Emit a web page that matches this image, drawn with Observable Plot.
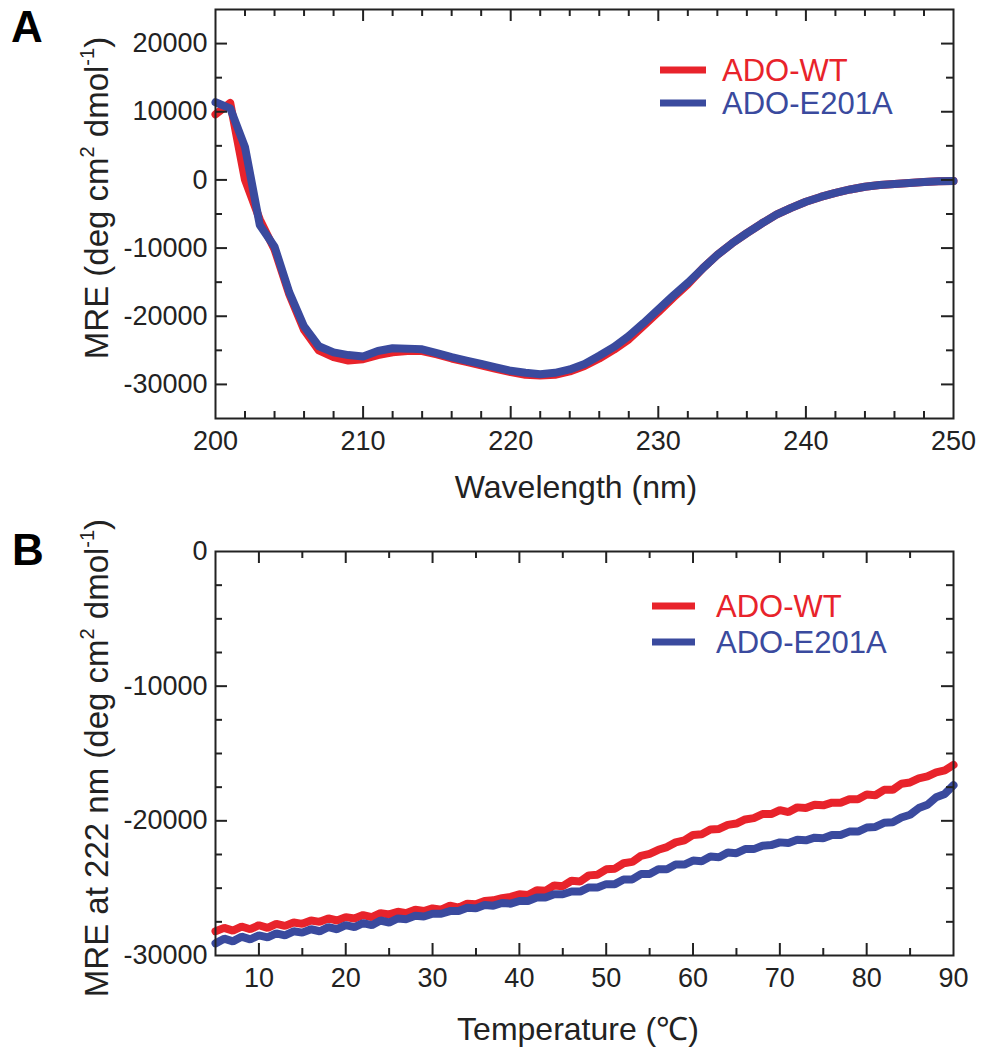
<!DOCTYPE html>
<html><head><meta charset="utf-8">
<script src="https://cdn.jsdelivr.net/npm/d3@7"></script>
<script src="https://cdn.jsdelivr.net/npm/@observablehq/plot@0.6"></script>
<style>body{margin:0;background:#fff} #wrap{width:986px;background:#fff} svg{display:block}</style>
</head><body><div id="wrap"></div>
<script>
// ---------- Panel A: CD spectra ----------
const wavelengthNm = [200,201,202,203,204,205,206,207,208,209,210,211,212,213,214,215,216,217,218,219,220,221,222,223,224,225,226,227,228,229,230,231,232,233,234,235,236,237,238,239,240,241,242,243,244,245,246,247,248,249,250];
const mreWT = [9600,11300,0,-5800,-10200,-16800,-22000,-25000,-26000,-26500,-26300,-25700,-25300,-25100,-25100,-25600,-26200,-26700,-27200,-27700,-28200,-28600,-28700,-28600,-28100,-27300,-26200,-24900,-23400,-21400,-19400,-17300,-15300,-13000,-11000,-9300,-7800,-6400,-5100,-4100,-3200,-2500,-1900,-1400,-1000,-750,-600,-450,-300,-200,-150];
const mreE201A = [11400,10500,4800,-6600,-9800,-16500,-21500,-24400,-25300,-25700,-25900,-25100,-24700,-24750,-24850,-25400,-26000,-26500,-27000,-27500,-28000,-28300,-28500,-28300,-27800,-27000,-25800,-24500,-22900,-21000,-19000,-17000,-15100,-13000,-11000,-9300,-7800,-6400,-5100,-4100,-3200,-2500,-1900,-1400,-1000,-750,-600,-450,-300,-200,-150];

// ---------- Panel B: thermal melt at 222 nm ----------
const temperatureC = [5,6,7,8,9,10,11,12,13,14,15,16,17,18,19,20,21,22,23,24,25,26,27,28,29,30,31,32,33,34,35,36,37,38,39,40,41,42,43,44,45,46,47,48,49,50,51,52,53,54,55,56,57,58,59,60,61,62,63,64,65,66,67,68,69,70,71,72,73,74,75,76,77,78,79,80,81,82,83,84,85,86,87,88,89,90];
const mre222WT = [-28200,-27950,-28150,-27850,-28050,-27750,-27950,-27650,-27800,-27550,-27650,-27400,-27500,-27250,-27400,-27150,-27250,-27000,-27150,-26850,-26950,-26750,-26850,-26600,-26700,-26500,-26600,-26300,-26450,-26150,-26200,-25950,-25900,-25750,-25650,-25450,-25500,-25150,-25200,-24800,-24850,-24450,-24500,-24050,-24000,-23600,-23550,-23150,-23050,-22600,-22450,-22150,-21950,-21600,-21450,-21050,-21000,-20650,-20600,-20300,-20200,-19900,-19800,-19500,-19500,-19200,-19350,-19000,-19050,-18800,-18850,-18650,-18650,-18400,-18400,-18050,-18100,-17700,-17700,-17250,-17150,-16850,-16700,-16400,-16250,-15850];
const mre222E201A = [-29100,-28750,-28950,-28600,-28800,-28500,-28650,-28350,-28500,-28200,-28300,-28050,-28200,-27900,-28050,-27750,-27900,-27600,-27750,-27400,-27550,-27250,-27300,-27050,-27100,-26900,-26900,-26700,-26700,-26450,-26500,-26250,-26300,-26100,-26150,-25950,-25950,-25700,-25700,-25450,-25450,-25250,-25250,-24950,-24950,-24700,-24700,-24350,-24350,-23950,-23950,-23600,-23600,-23250,-23250,-22950,-23000,-22650,-22700,-22350,-22400,-22100,-22100,-21850,-21800,-21600,-21650,-21400,-21450,-21250,-21300,-21050,-21050,-20800,-20800,-20500,-20450,-20150,-20100,-19750,-19550,-19050,-18800,-18250,-18000,-17350];

const seriesNames = ["ADO-WT", "ADO-E201A"];
const seriesColors = ["#e8232b", "#3a4a9e"];

// ticks
const aXLabels = [200,210,220,230,240,250];
const aXMajor = [210,220,230,240];
const aXMinor = [202,204,206,208,212,214,216,218,222,224,226,228,232,234,236,238,242,244,246,248];
const aYLabels = [-30000,-20000,-10000,0,10000,20000];
const aYMinor = [-25000,-15000,-5000,5000,15000];
const bXLabels = [10,20,30,40,50,60,70,80,90];
const bXMajor = [10,20,30,40,50,60,70,80];
const bXMinor = [15,25,35,45,55,65,75,85];
const bYLabels = [-30000,-20000,-10000,0];
const bYMajor = [-20000,-10000];
const bYMinor = [-27500,-25000,-22500,-17500,-15000,-12500,-7500,-5000,-2500];

const FONT = "'Liberation Sans', Arial, Helvetica, sans-serif";
const INK = "#222";
const fmt = d => String(d);
const W = 986, ML = 215, MR = 33;
const FW = W - ML - MR;

function zip(xs, ys) { return xs.map((x, i) => ({x, y: ys[i]})); }

// inward ticks on all four sides, drawn with tick marks inset to a short length
function frameTicks(fh, xMajor, xMinor, yMajor, yMinor) {
  const s = {stroke: INK, strokeWidth: 2};
  const big = 12, small = 7;
  return [
    Plot.tickX(xMajor, {x: d => d, insetTop: fh - big, ...s}),
    Plot.tickX(xMinor, {x: d => d, insetTop: fh - small, ...s}),
    Plot.tickX(xMajor, {x: d => d, insetBottom: fh - big, ...s}),
    Plot.tickX(xMinor, {x: d => d, insetBottom: fh - small, ...s}),
    Plot.tickY(yMajor, {y: d => d, insetRight: FW - big, ...s}),
    Plot.tickY(yMinor, {y: d => d, insetRight: FW - small, ...s}),
    Plot.tickY(yMajor, {y: d => d, insetLeft: FW - big, ...s}),
    Plot.tickY(yMinor, {y: d => d, insetLeft: FW - small, ...s})
  ];
}

const styleObj = {fontFamily: FONT, fontSize: "27px", color: INK, background: "white", overflow: "visible"};

const A_H = 510, A_MT = 9, A_MB = 92;
const plotA = Plot.plot({
  width: W, height: A_H,
  marginLeft: ML, marginRight: MR, marginTop: A_MT, marginBottom: A_MB,
  style: styleObj,
  x: {domain: [200, 250]},
  y: {domain: [-35000, 25000]},
  marks: [
    Plot.line(zip(wavelengthNm, mreWT), {x: "x", y: "y", stroke: seriesColors[0], strokeWidth: 8, strokeLinejoin: "round"}),
    Plot.line(zip(wavelengthNm, mreE201A), {x: "x", y: "y", stroke: seriesColors[1], strokeWidth: 8, strokeLinejoin: "round"}),
    ...frameTicks(A_H - A_MT - A_MB, aXMajor, aXMinor, aYLabels, aYMinor),
    Plot.axisX({anchor: "bottom", ticks: aXLabels, tickSize: 0, tickPadding: 12, tickFormat: fmt, label: null}),
    Plot.axisY({anchor: "left", ticks: aYLabels, tickSize: 0, tickPadding: 8, tickFormat: fmt, label: null}),
    Plot.frame({stroke: INK, strokeWidth: 2})
  ]
});

const B_H = 540, B_MT = 41, B_MB = 95;
const plotB = Plot.plot({
  width: W, height: B_H,
  marginLeft: ML, marginRight: MR, marginTop: B_MT, marginBottom: B_MB,
  style: styleObj,
  x: {domain: [5, 90]},
  y: {domain: [-30000, 0]},
  marks: [
    Plot.line(zip(temperatureC, mre222WT), {x: "x", y: "y", stroke: seriesColors[0], strokeWidth: 8, strokeLinejoin: "miter"}),
    Plot.line(zip(temperatureC, mre222E201A), {x: "x", y: "y", stroke: seriesColors[1], strokeWidth: 8, strokeLinejoin: "miter"}),
    ...frameTicks(B_H - B_MT - B_MB, bXMajor, bXMinor, bYMajor, bYMinor),
    Plot.axisX({anchor: "bottom", ticks: bXLabels, tickSize: 0, tickPadding: 12, tickFormat: fmt, label: null}),
    Plot.axisY({anchor: "left", ticks: bYLabels, tickSize: 0, tickPadding: 8, tickFormat: fmt, label: null}),
    Plot.frame({stroke: INK, strokeWidth: 2})
  ]
});

const wrap = document.getElementById("wrap");
wrap.append(plotA, plotB);

function richText(svg, {x, y, parts, size, fill = INK, weight = "normal", anchor = "start", rotate = 0}) {
  const t = d3.select(svg).append("text")
    .attr("transform", `translate(${x},${y}) rotate(${rotate})`)
    .attr("text-anchor", anchor)
    .attr("font-family", FONT)
    .attr("font-size", size)
    .attr("font-weight", weight)
    .attr("fill", fill);
  let shift = 0;
  for (const p of parts) {
    const sup = typeof p !== "string";
    const s = sup ? p.sup : p;
    const target = sup ? -Math.round(size * 0.42) : 0;
    const sp = t.append("tspan").text(s).attr("dy", target - shift);
    if (sup) sp.attr("font-size", Math.round(size * 0.62));
    shift = target;
  }
  return t;
}

function legend(svg, x1, x2, xt, ys) {
  seriesNames.forEach((name, i) => {
    d3.select(svg).append("line")
      .attr("x1", x1).attr("x2", x2).attr("y1", ys[i]).attr("y2", ys[i])
      .attr("stroke", seriesColors[i]).attr("stroke-width", 7);
    richText(svg, {x: xt, y: ys[i] + 11, parts: [name], size: 31, fill: seriesColors[i]});
  });
}

// Panel A annotations
richText(plotA, {x: 11, y: 42, parts: ["A"], size: 44, weight: "bold", fill: "#000"});
richText(plotA, {x: 576, y: 498, parts: ["Wavelength (nm)"], size: 32, anchor: "middle"});
richText(plotA, {x: 108, y: 198, rotate: -90, anchor: "middle", size: 33,
  parts: ["MRE (deg cm", {sup: "2"}, " dmol", {sup: "-1"}, ")"]});
legend(plotA, 660, 706, 722, [70, 103]);

// Panel B annotations
richText(plotB, {x: 12, y: 55, parts: ["B"], size: 44, weight: "bold", fill: "#000"});
richText(plotB, {x: 578, y: 530, parts: ["Temperature (℃)"], size: 32, anchor: "middle"});
richText(plotB, {x: 108, y: 248, rotate: -90, anchor: "middle", size: 33,
  parts: ["MRE at 222 nm (deg cm", {sup: "2"}, " dmol", {sup: "-1"}, ")"]});
legend(plotB, 652, 695, 716, [96, 132]);
</script>
</body></html>
